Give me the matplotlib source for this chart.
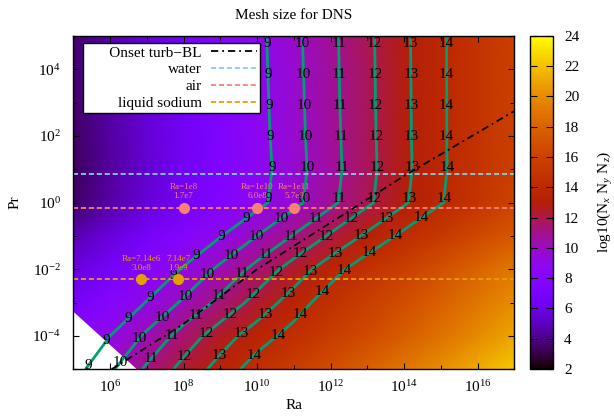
import numpy as np
import matplotlib
matplotlib.use("Agg")
import matplotlib.pyplot as plt
import matplotlib.transforms as mtransforms
from matplotlib.scale import InvertedLogTransform
from matplotlib.ticker import FixedLocator, NullFormatter, FuncFormatter

plt.rcParams['font.family'] = ['Liberation Serif', 'DejaVu Serif']
plt.rcParams['mathtext.fontset'] = 'custom'
plt.rcParams['mathtext.rm'] = 'Liberation Serif'
plt.rcParams['mathtext.it'] = 'Liberation Serif:italic'
plt.rcParams['mathtext.bf'] = 'Liberation Serif:bold'

# ---------------- data ----------------
ra_exponents = [5, 6, 7, 8, 9, 10, 11, 12, 13, 14, 15, 16, 17]
pr_exponents = [-5, -4, -3, -2, -1, 0, 1, 2, 3, 4, 5]
# log10(Nx Ny Nz), rows = Pr exponents (-5 .. 5), columns = Ra exponents (5 .. 17)
log10_mesh = [
    [8.59, 9.83, 11.17, 12.32, 13.38, 14.53, 15.65, 16.77, 17.89, 19.00, 20.12, 21.24, 22.36],
    [7.84, 9.00, 10.18, 11.43, 12.53, 13.50, 14.41, 15.50, 16.60, 17.70, 18.80, 19.90, 21.00],
    [6.85, 7.95, 9.06, 10.16, 11.26, 12.37, 13.47, 14.58, 15.68, 16.78, 17.89, 18.99, 20.10],
    [5.78, 6.89, 8.00, 9.11, 10.22, 11.33, 12.44, 13.56, 14.67, 15.78, 16.89, 18.00, 19.11],
    [4.70, 5.76, 6.82, 7.89, 8.95, 10.01, 11.07, 12.13, 13.19, 14.26, 15.32, 16.38, 17.44],
    [3.46, 4.50, 5.55, 6.59, 7.64, 8.69, 9.73, 10.78, 11.82, 12.87, 13.92, 14.96, 16.01],
    [3.32, 4.37, 5.42, 6.47, 7.52, 8.57, 9.62, 10.67, 11.72, 12.77, 13.82, 14.87, 15.92],
    [3.42, 4.46, 5.50, 6.54, 7.58, 8.63, 9.67, 10.71, 11.75, 12.79, 13.83, 14.88, 15.92],
    [3.50, 4.54, 5.57, 6.60, 7.64, 8.67, 9.70, 10.74, 11.77, 12.80, 13.83, 14.87, 15.90],
    [3.57, 4.60, 5.62, 6.65, 7.68, 8.70, 9.73, 10.76, 11.78, 12.81, 13.84, 14.86, 15.89],
    [3.63, 4.65, 5.67, 6.69, 7.71, 8.73, 9.76, 10.78, 11.80, 12.82, 13.84, 14.86, 15.88],
]
mask_ra_pr = 54.0          # below Ra*Pr of this value no mesh estimate is drawn
contour_levels = [9, 10, 11, 12, 13, 14]

onset_ra = [1.1e6, 1e8, 1e10, 1e12, 1e14, 1e17]
onset_pr = [1e-5, 2.3e-4, 1.0e-2, 0.25, 6.3, 560.0]

water_pr = 7.0
air_pr = 0.7
sodium_pr = 0.005

air_ra = [1e8, 1e10, 1e11]
air_labels = ['Ra=1e8\n1.7e7', 'Ra=1e10\n6.0e8', 'Ra=1e11\n5.7e9']
sodium_ra = [7.14e6, 7.14e7]
sodium_labels = ['Ra=7.14e6\n3.0e8', '7.14e7\n1.9e9']

legend_labels = ['Onset turb\u2212BL', 'water', 'air', 'liquid sodium']

x_major_exp = [6, 8, 10, 12, 14, 16]
x_minor_exp = [5, 7, 9, 11, 13, 15, 17]
y_major_exp = [-4, -2, 0, 2, 4]
y_minor_exp = [-5, -3, -1, 1, 3, 5]
cbar_ticks = [2, 4, 6, 8, 10, 12, 14, 16, 18, 20, 22, 24]

# ---------------- figure ----------------
GREEN = '#009e73'
WATER = '#87ceeb'
AIR = '#fa8072'
SODIUM = '#e69f00'

fig = plt.figure(figsize=(6.14, 4.19), dpi=100)
ax = fig.add_axes([0.1194, 0.1186, 0.7182, 0.7955])
cax = fig.add_axes([0.8632, 0.1193, 0.0375, 0.7955])

RA = 10.0 ** np.array(ra_exponents, dtype=float)
PR = 10.0 ** np.array(pr_exponents, dtype=float)
V = np.array(log10_mesh)

ax.set_xscale('log')
ax.set_yscale('log')
mesh = ax.pcolormesh(RA, PR, V, shading='gouraud', cmap='gnuplot', vmin=2, vmax=24, zorder=1)
ax.set_xlim(RA[0], RA[-1])
ax.set_ylim(PR[0], PR[-1])

# masked (white) corner
edge_ra = np.array([RA[0], mask_ra_pr / PR[0]])
ax.fill_between(edge_ra, PR[0], mask_ra_pr / edge_ra, color='white', lw=0, zorder=1.5)

# contours computed in log space, displayed on log axes
log_tr = mtransforms.blended_transform_factory(InvertedLogTransform(10), InvertedLogTransform(10))
cs = ax.contour(np.array(ra_exponents, float), np.array(pr_exponents, float), V,
                levels=contour_levels, colors=GREEN, linewidths=2,
                transform=log_tr + ax.transData, zorder=2)
ax.set_xlim(RA[0], RA[-1])
ax.set_ylim(PR[0], PR[-1])

# contour labels placed along each contour (gnuplot style)
inv = ax.transData.inverted()
for lev, segs in zip(cs.levels, cs.allsegs):
    for seg in segs:
        if len(seg) < 2:
            continue
        pts = ax.transData.transform(10.0 ** seg)
        if pts[0, 1] < pts[-1, 1]:
            pts = pts[::-1]
        d = np.concatenate([[0.0], np.cumsum(np.hypot(*np.diff(pts, axis=0).T))])
        for s in np.arange(8.0, d[-1] - 2, 31.0):
            px = np.interp(s, d, pts[:, 0])
            py = np.interp(s, d, pts[:, 1])
            xd, yd = inv.transform((px, py))
            ax.text(xd, yd, f'{int(lev)}', ha='center', va='center', fontsize=11,
                    color='black', zorder=3, clip_on=True)

# lines
h_onset, = ax.plot(onset_ra, onset_pr, color='black', lw=1.3,
                   ls=(0, (4, 2.2, 1, 2.2)), zorder=2.6)
h_water = ax.axhline(water_pr, color=WATER, lw=1.3, ls=(0, (2.8, 1.6)), zorder=2.5)
h_air = ax.axhline(air_pr, color=AIR, lw=1.3, ls=(0, (2.8, 1.6)), zorder=2.5)
h_sod = ax.axhline(sodium_pr, color=SODIUM, lw=1.3, ls=(0, (2.8, 1.6)), zorder=2.5)

# points and their labels
ax.plot(air_ra, [air_pr] * len(air_ra), 'o', ms=8, color=AIR, mec='none', zorder=4)
for r, lab in zip(air_ra, air_labels):
    ax.annotate(lab, (r, air_pr), xytext=(0, 5.5), textcoords='offset points',
                ha='center', va='bottom', fontsize=6.5, color=AIR, linespacing=1.2, zorder=4)
ax.plot(sodium_ra, [sodium_pr] * len(sodium_ra), 'o', ms=8, color=SODIUM, mec='none', zorder=4)
for r, lab in zip(sodium_ra, sodium_labels):
    ax.annotate(lab, (r, sodium_pr), xytext=(0, 5.5), textcoords='offset points',
                ha='center', va='bottom', fontsize=6.5, color=SODIUM, linespacing=1.2, zorder=4)

# legend (gnuplot style: right-aligned text, sample to the right)
shown = list(legend_labels)
shown[0] = '      ' + shown[0]
leg = ax.legend(handles=[h_onset, h_water, h_air, h_sod], labels=shown, loc='upper left',
                bbox_to_anchor=(0.022, 0.979), borderaxespad=0, markerfirst=False,
                frameon=True, fancybox=False, edgecolor='black', framealpha=1,
                fontsize=11, handlelength=3.0, handletextpad=0.6, labelspacing=0.2,
                borderpad=0.2)
leg.get_frame().set_linewidth(1.0)
leg.set_zorder(5)

# axes styling
fmt = FuncFormatter(lambda v, pos: r'$\mathregular{10^{%d}}$' % int(round(np.log10(v))))
ax.xaxis.set_major_locator(FixedLocator(10.0 ** np.array(x_major_exp, float)))
ax.xaxis.set_minor_locator(FixedLocator(10.0 ** np.array(x_minor_exp, float)))
ax.yaxis.set_major_locator(FixedLocator(10.0 ** np.array(y_major_exp, float)))
ax.yaxis.set_minor_locator(FixedLocator(10.0 ** np.array(y_minor_exp, float)))
ax.xaxis.set_major_formatter(fmt)
ax.yaxis.set_major_formatter(fmt)
ax.xaxis.set_minor_formatter(NullFormatter())
ax.yaxis.set_minor_formatter(NullFormatter())
ax.tick_params(which='both', direction='in', top=True, right=True, width=0.8)
ax.tick_params(which='major', length=4.5, labelsize=11)
ax.tick_params(which='minor', length=3)
ax.tick_params(axis='x', pad=7)
ax.tick_params(axis='y', pad=9)
for sp in ax.spines.values():
    sp.set_linewidth(1.0)

ax.set_xlabel('Ra', fontsize=11, labelpad=3)
ax.set_ylabel('Pr', fontsize=11, labelpad=8)
ax.set_title('Mesh size for DNS', fontsize=11, pad=12)

cb = fig.colorbar(mesh, cax=cax, ticks=cbar_ticks)
cax.tick_params(direction='in', left=True, right=True, length=5, width=0.8, labelsize=11, pad=8)
cb.outline.set_linewidth(1.0)
cb.set_label('log10(N$_{x}$ N$_{y}$ N$_{z}$)', fontsize=11, labelpad=12)

fig.savefig('out.png', dpi=100)
